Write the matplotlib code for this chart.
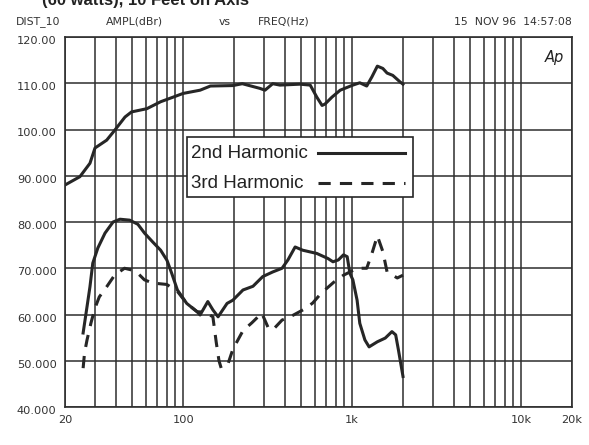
import matplotlib
matplotlib.use("Agg")
import matplotlib.pyplot as plt
import matplotlib.transforms as mtransforms
from matplotlib.patches import Rectangle
from matplotlib.ticker import LogLocator, NullFormatter

# fundamental (top curve)
fund_freq = [20, 24.5, 28.1, 30.1, 35.3, 39.3, 45.3, 49.5, 61, 73.6, 87.3, 100, 126, 145,
             197, 224, 284, 305, 339, 374, 491, 565, 618, 664, 691, 760, 850, 1010, 1110,
             1220, 1310, 1410, 1520, 1610, 1740, 1920, 2000]
fund_db = [88.0, 89.8, 92.7, 96.0, 97.7, 99.8, 102.7, 103.8, 104.5, 106.0, 107.0, 107.8,
           108.5, 109.4, 109.5, 109.9, 108.9, 108.5, 109.9, 109.6, 109.8, 109.6, 107.0,
           105.2, 105.5, 107.0, 108.5, 109.6, 110.1, 109.4, 111.4, 113.7, 113.2, 112.2,
           111.7, 110.3, 109.8]

# 2nd harmonic (solid)
h2_freq = [25.6, 27.0, 28.1, 29.2, 31.3, 34.5, 38.5, 42.3, 48.3, 54, 59.1, 66, 73.6, 80.3,
           85.6, 92.5, 105, 121, 126, 140, 150, 161, 182, 197, 226, 259, 296, 339, 385,
           417, 460, 510, 618, 720, 770, 829, 889, 935, 970, 1010, 1070, 1110, 1190, 1260,
           1410, 1570, 1720, 1810, 1880, 2000]
h2_db = [56.0, 61.7, 66.0, 71.1, 74.4, 77.6, 80.0, 80.6, 80.4, 79.5, 77.6, 75.7, 73.9, 71.7,
         68.9, 65.3, 62.4, 60.6, 59.9, 62.8, 61.0, 59.5, 62.4, 63.1, 65.3, 66.1, 68.2, 69.2,
         70.0, 71.8, 74.6, 73.9, 73.2, 72.1, 71.4, 71.8, 72.9, 72.5, 68.9, 67.5, 63.1, 58.1,
         54.5, 53.0, 54.1, 54.9, 56.3, 55.6, 52.3, 46.6]

# 3rd harmonic (dashed)
h3_freq = [25.6, 26.1, 27.0, 28.5, 30.1, 31.9, 35.3, 39.3, 45, 50, 54, 59, 66, 80, 92.5,
           105, 121, 135, 150, 157, 163, 168, 185, 197, 226, 255, 292, 320, 340, 385, 430,
           530, 585, 642, 700, 780, 890, 1070, 1220, 1310, 1410, 1520, 1610, 1850, 2000]
h3_db = [48.4, 51.7, 54.5, 58.2, 61.4, 63.8, 66.0, 68.5, 70.0, 69.6, 68.9, 67.5, 66.8, 66.5,
         65.0, 62.4, 60.6, 60.5, 59.5, 54.0, 50.0, 48.4, 49.5, 52.5, 56.5, 58.2, 60.3, 57.0,
         56.7, 58.8, 59.5, 61.3, 62.5, 64.2, 65.5, 67.0, 68.5, 70.0, 70.0, 73.2, 77.0, 73.6,
         69.2, 67.9, 68.5]

x_ticks = [20, 100, 1000, 10000, 20000]
x_labels = ["20", "100", "1k", "10k", "20k"]
y_ticks = [40, 50, 60, 70, 80, 90, 100, 110, 120]
y_labels = ["40.000", "50.000", "60.000", "70.000", "80.000", "90.000", "100.00", "110.00", "120.00"]
legend_labels = ["2nd Harmonic", "3rd Harmonic"]

W, H = 589, 445
fig = plt.figure(figsize=(W / 100, H / 100), dpi=100)
fig.patch.set_facecolor("white")
ax = fig.add_axes([65 / W, 1 - 407 / H, (572 - 65) / W, (407 - 37) / H])

ink = "#262626"
grid_ink = "#2e2e2e"
dash = (4.0, 3.0)

ax.plot(fund_freq, fund_db, color=ink, lw=2.2, solid_joinstyle="round")
ax.plot(h2_freq, h2_db, color=ink, lw=2.2, solid_joinstyle="round")
ax.plot(h3_freq, h3_db, color=ink, lw=2.2, dashes=dash)

ax.set_xscale("log")
ax.set_xlim(20, 20000)
ax.set_ylim(40, 120)
ax.set_xticks(x_ticks)
ax.set_xticklabels(x_labels)
ax.xaxis.set_minor_locator(LogLocator(base=10, subs=range(1, 10), numticks=20))
ax.xaxis.set_minor_formatter(NullFormatter())
ax.set_yticks(y_ticks)
ax.set_yticklabels(y_labels)
ax.tick_params(which="both", length=0, labelsize=8.2, colors="#333333", pad=6)
ax.grid(True, which="both", axis="x", color=grid_ink, lw=1.1)
ax.grid(True, which="major", axis="y", color=grid_ink, lw=1.1)
for s in ax.spines.values():
    s.set_color(grid_ink)
    s.set_linewidth(1.2)

# y labels sit a little under their grid lines on the original
shift = mtransforms.ScaledTranslation(0, -3 / 100, fig.dpi_scale_trans)
for lab in ax.get_yticklabels():
    lab.set_transform(lab.get_transform() + shift)
    lab.set_fontfamily("DejaVu Sans")
for lab in ax.get_xticklabels():
    lab.set_fontfamily("DejaVu Sans")


# legend box drawn by hand: text on the left, sample line on the right
def ax_frac(px, py):
    return (px - 65) / 507, (407 - py) / 370


bx0, by0 = ax_frac(187, 197)
bx1, by1 = ax_frac(413, 137)
ax.add_patch(Rectangle((bx0, by0), bx1 - bx0, by1 - by0, transform=ax.transAxes,
                       facecolor="white", edgecolor=ink, lw=1.2, zorder=5))
for i, (label, style) in enumerate(zip(legend_labels, [None, dash])):
    row_y = 153 + 30 * i
    tx, ty = ax_frac(191, row_y)
    ax.text(tx, ty, label, transform=ax.transAxes, ha="left", va="center", zorder=6,
            fontsize=13.5, color="#222222", family="Liberation Sans")
    lx0, ly = ax_frac(318, row_y)
    lx1, _ = ax_frac(405, row_y)
    kw = {"dashes": style} if style else {}
    ax.plot([lx0, lx1], [ly, ly], transform=ax.transAxes, color=ink, lw=2.2, zorder=6, **kw)

ax.text(0.965, 0.965, "Ap", transform=ax.transAxes, ha="center", va="top",
        fontsize=10.5, style="italic", color="#222222", family="DejaVu Sans")

# header row above the plot
hy = 1 - 22 / H
for x, s, ha in [(16, "DIST_10", "left"), (106, "AMPL(dBr)", "left"), (219, "vs", "left"),
                 (258, "FREQ(Hz)", "left"), (572, "15  NOV 96  14:57:08", "right")]:
    fig.text(x / W, hy, s, ha=ha, va="center", fontsize=7.8, color="#333333",
             family="DejaVu Sans")

# title, cut off by the top of the scan
fig.text(42 / W, 1 - 5 / H, "(60 watts), 10 Feet on Axis", ha="left", va="baseline",
         fontsize=12, fontweight="bold", color="#222222", family="Liberation Sans")

fig.savefig("out.png", dpi=100)
